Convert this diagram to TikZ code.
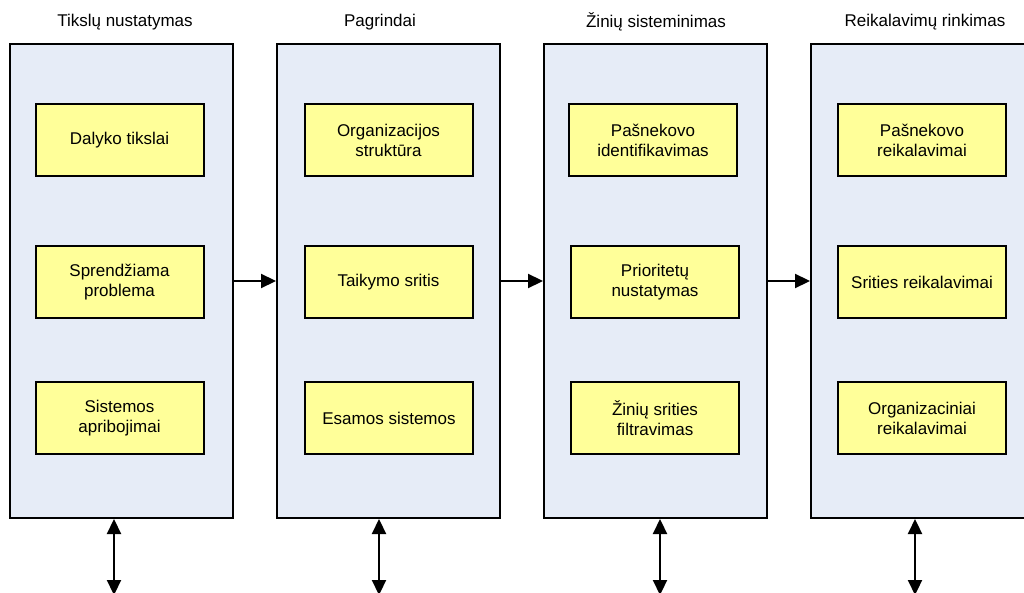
\documentclass[tikz,border=0pt]{standalone}
\usepackage{fontspec}
\setmainfont{Liberation Sans}
\usetikzlibrary{arrows.meta}
\definecolor{outerfill}{RGB}{230,236,247}
\definecolor{innerfill}{RGB}{255,255,153}
\tikzset{
  outerbox/.style={draw=black, line width=2pt, fill=outerfill, minimum width=223pt, minimum height=474pt, inner sep=0pt},
  innerbox/.style={draw=black, line width=2pt, fill=innerfill, minimum width=168pt, minimum height=72pt, inner sep=0pt, align=center, font=\fontsize{17}{20}\selectfont},
  title/.style={font=\fontsize{17}{20}\selectfont, inner sep=0pt},
  arr/.style={line width=2.2pt, -{Triangle[length=15pt,width=14pt]}},
  dbl/.style={line width=2.2pt, {Triangle[length=15pt,width=14pt]}-{Triangle[length=15pt,width=14pt]}}
}
\begin{document}
\begin{tikzpicture}[x=1pt,y=-1pt]
\useasboundingbox (0,0) rectangle (1024,593);
\fill[white] (0,0) rectangle (1024,593);
% outer boxes
\node[outerbox] (o1) at (121.5,281) {};
\node[outerbox] (o2) at (388.5,281) {};
\node[outerbox] (o3) at (655.5,281) {};
\node[outerbox] (o4) at (922.5,281) {};
% titles
\node[title] (t1) at (125,22) {Tikslų nustatymas};
\node[title] (t2) at (380,22) {Pagrindai};
\node[title] (t3) at (656,22) {Žinių sisteminimas};
\node[title] (t4) at (925,22) {Reikalavimų rinkimas};
% inner boxes column 1
\node[innerbox] (a1) at (119.5,140) {Dalyko tikslai};
\node[innerbox] (a2) at (119.5,282) {Sprendžiama\\problema};
\node[innerbox] (a3) at (119.5,418) {Sistemos\\apribojimai};
% column 2
\node[innerbox] (b1) at (388.5,140) {Organizacijos\\struktūra};
\node[innerbox] (b2) at (388.5,282) {Taikymo sritis};
\node[innerbox] (b3) at (389,418) {Esamos sistemos};
% column 3
\node[innerbox] (c1) at (653,140) {Pašnekovo\\identifikavimas};
\node[innerbox] (c2) at (655,282) {Prioritetų\\nustatymas};
\node[innerbox] (c3) at (655,418) {Žinių srities\\filtravimas};
% column 4
\node[innerbox] (d1) at (922,140) {Pašnekovo\\reikalavimai};
\node[innerbox] (d2) at (922,282) {Srities reikalavimai};
\node[innerbox] (d3) at (922,418) {Organizaciniai\\reikalavimai};
% horizontal arrows
\draw[arr] (o1) -- (o2);
\draw[arr] (o2) -- (o3);
\draw[arr] (o3) -- (o4);
% bottom double arrows
\coordinate (e1) at (114,595);
\coordinate (e2) at (379,595);
\coordinate (e3) at (660,595);
\coordinate (e4) at (915,595);
\draw[dbl] (e1 |- o1.south) -- (e1);
\draw[dbl] (e2 |- o2.south) -- (e2);
\draw[dbl] (e3 |- o3.south) -- (e3);
\draw[dbl] (e4 |- o4.south) -- (e4);
\end{tikzpicture}
\end{document}
